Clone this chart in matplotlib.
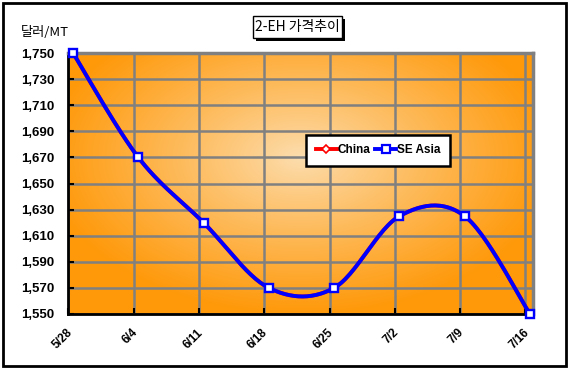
import numpy as np
import matplotlib
matplotlib.use("Agg")
import matplotlib.pyplot as plt
import matplotlib.transforms as mtransforms
from matplotlib.patches import Rectangle

plt.rcParams['font.family'] = ['Liberation Sans', 'Noto Sans CJK KR', 'DejaVu Sans']

# weekly prices, USD/MT
dates = ['5/28', '6/4', '6/11', '6/18', '6/25', '7/2', '7/9', '7/16']
china = [1750, 1670, 1620, 1570, 1570, 1625, 1625, 1550]
se_asia = [1750, 1670, 1620, 1570, 1570, 1625, 1625, 1550]
yticks = list(range(1550, 1751, 20))


def smooth(xs, ys, n=30):
    # excel style smoothed line (bezier, control points from neighbours)
    pts = np.column_stack([xs, ys]).astype(float)
    ext = np.vstack([pts[0], pts, pts[-1]])
    out = []
    t = np.linspace(0, 1, n)[:, None]
    for i in range(1, len(ext) - 2):
        p0, p1, p2, p3 = ext[i - 1], ext[i], ext[i + 1], ext[i + 2]
        c1 = p1 + (p2 - p0) / 6
        c2 = p2 - (p3 - p1) / 6
        seg = ((1 - t) ** 3) * p1 + 3 * ((1 - t) ** 2) * t * c1 + 3 * (1 - t) * t ** 2 * c2 + t ** 3 * p2
        out.append(seg if i == 1 else seg[1:])
    out = np.vstack(out)
    return out[:, 0], out[:, 1]


fig = plt.figure(figsize=(5.68, 3.68), dpi=100)
W, H = 568, 368
ax = fig.add_axes([68 / W, 1 - 314 / H, 465 / W, 261 / H])

# radial orange gradient in the plot area
gx, gy = np.meshgrid(np.linspace(0, 1, 300), np.linspace(0, 1, 200))
r = np.sqrt(((gx - 0.5) / 0.55) ** 2 + ((gy - 0.6) / 0.6) ** 2)
r = np.clip(r, 0, 1) ** 0.9
light = np.array([0.99, 0.87, 0.69])
orange = np.array([1.0, 0.60, 0.04])
img = light[None, None, :] * (1 - r[..., None]) + orange[None, None, :] * r[..., None]
ax.imshow(img, extent=[0, 1, 0, 1], transform=ax.transAxes, aspect='auto', zorder=0, origin='lower')

x = np.arange(len(dates))
sx, sy = smooth(x, china)
ax.plot(sx, sy, color='red', lw=2.8, zorder=3, clip_on=False)
ax.plot(x, china, ls='none', marker='D', ms=4.5, mfc='white', mec='red', mew=1.2, zorder=3, clip_on=False)
ax.plot([], [], color='red', lw=2.8, marker='D', ms=4.5, mfc='white', mec='red', mew=1.2, label='China')

sx, sy = smooth(x, se_asia)
ax.plot(sx, sy, color='#0000FF', lw=2.8, zorder=4, clip_on=False)
ax.plot(x, se_asia, ls='none', marker='s', ms=5.8, mfc='white', mec='#0000FF', mew=1.7, zorder=5, clip_on=False)
ax.plot([], [], color='#0000FF', lw=2.8, marker='s', ms=5.5, mfc='white', mec='#0000FF', mew=1.6, label='SE Asia')

ax.set_xlim(-0.077, 7.046)
ax.set_ylim(1550, 1750)
ax.set_yticks(yticks)
ax.set_yticklabels([f'{v:,}' for v in yticks], fontsize=9.5, fontweight='bold')
ax.set_xticks(x - 0.07)
ax.set_xticklabels(dates, rotation=45, ha='right', fontsize=8.5, fontweight='bold')
ax.tick_params(axis='both', direction='in', length=4, width=1.5, color='black')
ax.tick_params(axis='y', pad=10)
ax.tick_params(axis='x', pad=9)
shift = mtransforms.ScaledTranslation(6 / 100, 0, fig.dpi_scale_trans)
for lab in ax.get_xticklabels():
    lab.set_transform(lab.get_transform() + shift)
ax.grid(True, color='#808080', lw=1.8, zorder=1)
for gl in ax.get_xgridlines() + ax.get_ygridlines():
    gl.set_zorder(1)
for s in ['left', 'bottom']:
    ax.spines[s].set_color('black')
    ax.spines[s].set_linewidth(2)
for s in ['top', 'right']:
    ax.spines[s].set_color('#808080')
    ax.spines[s].set_linewidth(2.5)

leg = ax.legend(loc='center', bbox_to_anchor=(0.667, 0.628), ncol=2,
                frameon=True, fancybox=False, handlelength=1.8, handletextpad=0.05,
                columnspacing=0.4, borderpad=0.8, prop={'weight': 'bold', 'size': 8.5})
leg.get_frame().set_edgecolor('black')
leg.get_frame().set_linewidth(1.8)
leg.get_frame().set_facecolor('white')
leg.get_frame().set_alpha(1)
leg.set_zorder(6)

fig.text(21 / W, 1 - 33 / H, '달러/MT', fontsize=9.5,
         family=['Noto Sans CJK KR', 'DejaVu Sans'], va='center', ha='left')

# title box with shadow
fig.patches.append(Rectangle((256 / W, 1 - 41 / H), 89 / W, 22 / H, transform=fig.transFigure,
                             facecolor='black', edgecolor='none'))
fig.patches.append(Rectangle((253 / W, 1 - 38 / H), 89 / W, 22 / H, transform=fig.transFigure,
                             facecolor='white', edgecolor='black', lw=1))
fig.text(297.5 / W, 1 - 27.5 / H, '2-EH 가격추이', fontsize=10, ha='center', va='center',
         family=['Noto Sans CJK KR', 'DejaVu Sans'])

# outer frame
fig.patches.append(Rectangle((2.5 / W, 2.5 / H), 563 / W, 363 / H, transform=fig.transFigure,
                             facecolor='none', edgecolor='black', lw=2))

fig.savefig('out.png', dpi=100)
